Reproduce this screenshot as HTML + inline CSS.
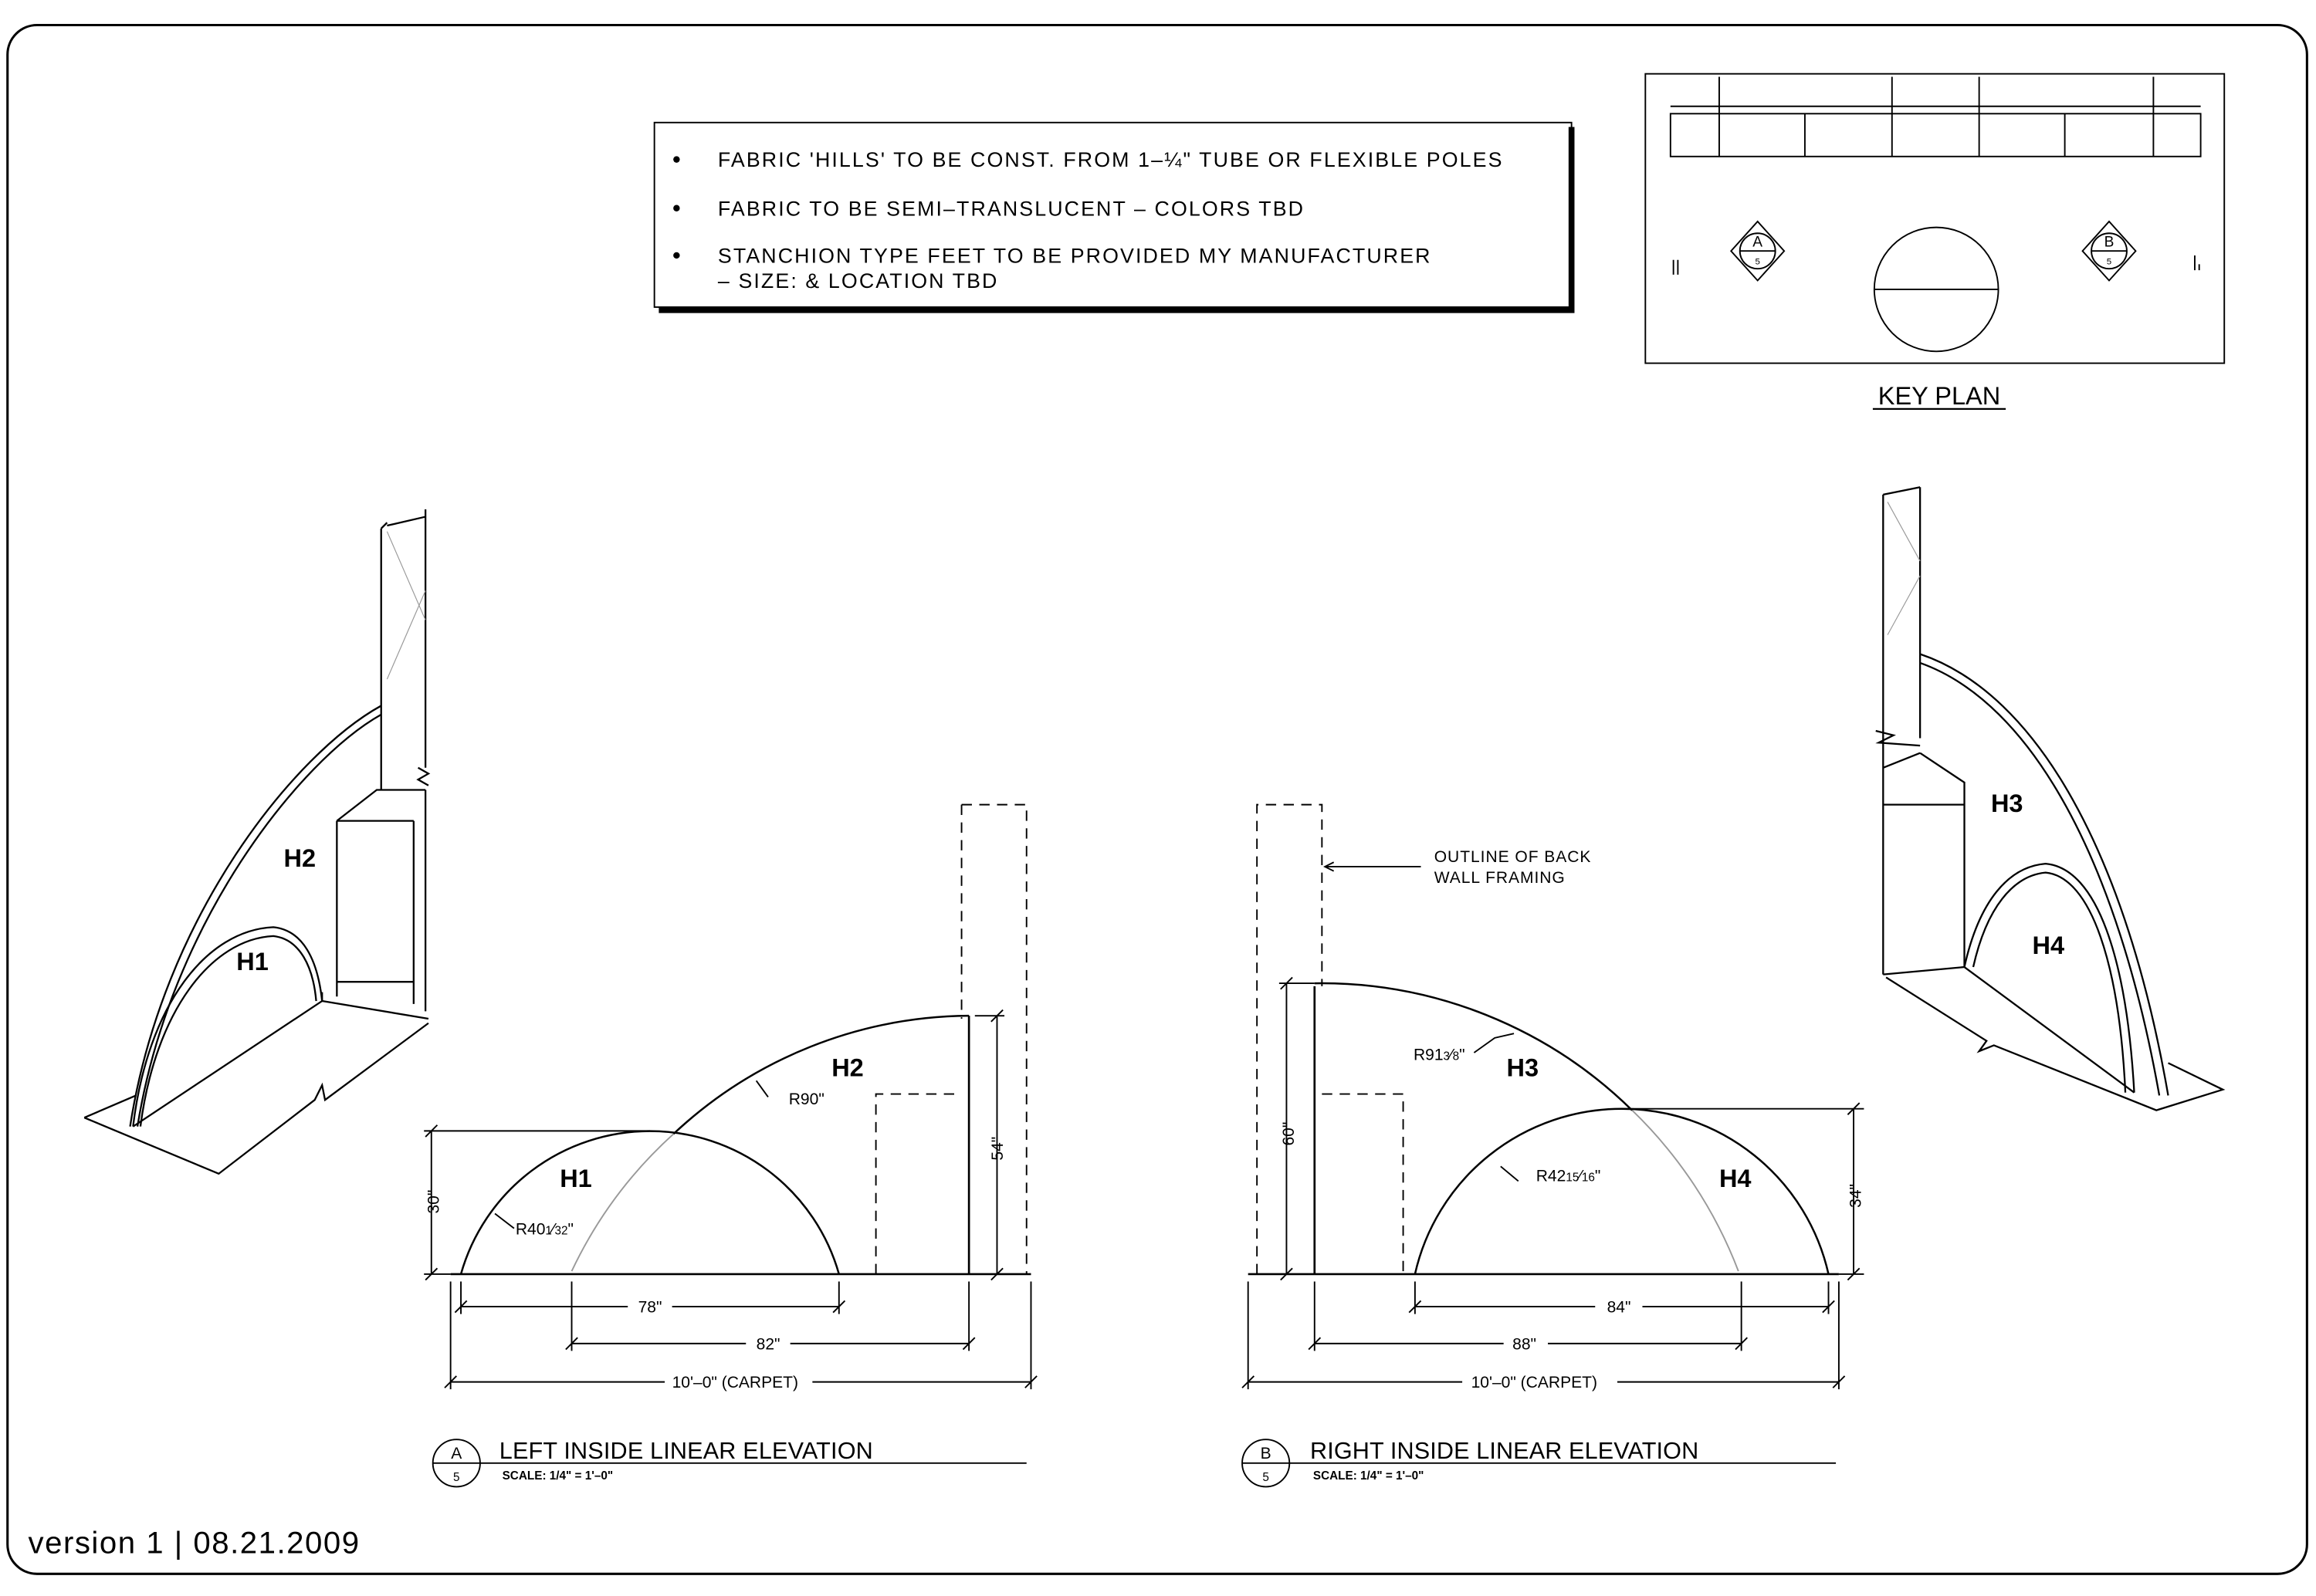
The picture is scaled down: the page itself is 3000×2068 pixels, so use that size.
<!DOCTYPE html>
<html><head><style>html,body{margin:0;padding:0;background:#fff}svg{display:block}</style></head>
<body>
<svg width="3000" height="2068" viewBox="0 0 1568 1081" xmlns="http://www.w3.org/2000/svg" font-family="Liberation Sans, sans-serif">
<rect x="0" y="0" width="1568" height="1081" fill="#fff"/>
<rect x="5" y="17" width="1557" height="1049" rx="20" fill="none" stroke="#000" stroke-width="1.6"/>

<!-- notes box -->
<rect x="443" y="83" width="621" height="125" fill="none" stroke="#000" stroke-width="1"/>
<path d="M1064 86 V210 H446" fill="none" stroke="#000" stroke-width="4"/>
<g font-size="14" fill="#000" letter-spacing="1.1">
<circle cx="458" cy="108" r="2.2"/><text x="486" y="113">FABRIC  'HILLS'  TO  BE  CONST.  FROM  1–¼"  TUBE  OR  FLEXIBLE  POLES</text>
<circle cx="458" cy="141" r="2.2"/><text x="486" y="146">FABRIC  TO  BE  SEMI–TRANSLUCENT  –  COLORS  TBD</text>
<circle cx="458" cy="173" r="2.2"/><text x="486" y="178">STANCHION  TYPE  FEET  TO  BE  PROVIDED  MY  MANUFACTURER</text>
<text x="486" y="195">–  SIZE:  &amp;  LOCATION  TBD</text>
</g>

<!-- key plan -->
<g stroke="#000" fill="none" stroke-width="1">
<rect x="1114" y="50" width="392" height="196"/>
<rect x="1131" y="77" width="359" height="29"/>
<path d="M1131 72 H1490 M1164 77V106 M1222 77V106 M1281 77V106 M1340 77V106 M1398 77V106 M1458 77V106 M1164 52V77 M1281 52V77 M1340 52V77 M1458 52V77"/>
<circle cx="1311" cy="196" r="42"/><path d="M1269 196 H1353"/>
<path d="M1172 170 L1190 150 L1208 170 L1190 190 Z"/><circle cx="1190" cy="170" r="12"/><path d="M1178 170H1202"/>
<path d="M1446 170 L1428 150 L1410 170 L1428 190 Z"/><circle cx="1428" cy="170" r="12"/><path d="M1416 170H1440"/>
<path d="M1133 176V186 M1136 176V186 M1486 173V183 M1489 179V183"/>
</g>
<g font-size="10" text-anchor="middle"><text x="1190" y="167">A</text><text x="1428" y="167">B</text></g>
<g font-size="6" text-anchor="middle"><text x="1190" y="179">5</text><text x="1428" y="179">5</text></g>
<text x="1313" y="274" font-size="17" text-anchor="middle">KEY PLAN</text>
<path d="M1268 277H1358" stroke="#000" stroke-width="1.2"/>

<!-- LEFT ISO -->
<g stroke="#000" fill="none" stroke-width="1.2">
<path d="M258 358 V535 M288 345 V520 M262 356 L288 350 M258 358 L262 354"/>
<path d="M262 360 L288 420 M262 460 L288 400" stroke="#999" stroke-width="0.6"/>
<path d="M283 520 L290 524 L283 528 L290 532"/>
<path d="M228 556 H280 M228 556 L255 535 H288 M228 556 V675 M280 556 V680 M288 535 V685 M228 665 H280"/>
<path d="M57 757 L148 795 L213 745 L218 735 L220 745 L290 693"/>
<path d="M57 757 L92 742 M218 678 L290 690"/>
<path d="M90 763 L218 678 L218 672"/>
<path d="M88 763 C110 620 200 510 258 478" stroke-width="1.2"/>
<path d="M93 763 C115 625 203 515 258 484" stroke-width="1.2"/>
<path d="M90 763 C100 680 140 630 185 628 C205 630 215 650 218 678"/>
<path d="M95 763 C105 685 143 636 185 634 C203 636 212 655 214 678"/>
</g>
<g font-size="17" font-weight="bold"><text x="192" y="587">H2</text><text x="160" y="657">H1</text></g>

<!-- RIGHT ISO -->
<g stroke="#000" fill="none" stroke-width="1.2">
<path d="M1275 335 V660 M1300 330 V500 M1275 335 L1300 330"/>
<path d="M1278 340 L1300 380 M1278 430 L1300 390" stroke="#999" stroke-width="0.6"/>
<path d="M1270 495 L1282 498 L1272 503 L1300 505"/>
<path d="M1275 545 H1330 M1300 510 L1330 530 V545 M1275 520 L1300 510 M1330 545 V655"/>
<path d="M1277 662 L1345 705 L1340 712 L1350 708 L1460 752 L1505 738 L1468 720"/>
<path d="M1275 660 L1330 655 L1445 740"/>
<path d="M1300 443 C1380 470 1440 580 1468 742"/>
<path d="M1300 449 C1376 476 1434 584 1462 742"/>
<path d="M1330 655 C1340 610 1360 587 1385 585 C1420 588 1440 650 1445 740"/>
<path d="M1336 655 C1345 615 1363 593 1385 591 C1416 594 1435 654 1439 740"/>
</g>
<g font-size="17" font-weight="bold"><text x="1348" y="550">H3</text><text x="1376" y="646">H4</text></g>

<!-- LEFT ELEVATION -->
<g stroke="#000" fill="none" stroke-width="1">
<path d="M305 863 H698" stroke-width="1.4"/>
<path d="M651 545 H695 V863 M651 545 V690 M593 863 V741 H651" stroke-dasharray="7 5"/>
<path d="M656 688 V863" stroke-width="1.4"/>
<path d="M312 863 A133 133 0 0 1 568 863" stroke-width="1.3"/>
<path d="M387 861 A295 295 0 0 1 456 768" stroke="#999"/>
<path d="M456 768 A295 295 0 0 1 656 688" stroke-width="1.3"/>
<path d="M287 766 H440 M287 863 H305 M292 766 V863 M288 770 L296 762 M288 867 L296 859"/>
<path d="M660 688 H680 M660 863 H680 M675 688 V863 M671 692 L679 684 M671 867 L679 859"/>
<path d="M312 868 V890 M568 868 V890 M312 885 H425 M455 885 H568 M308 889 L316 881 M564 889 L572 881"/>
<path d="M387 868 V915 M656 868 V915 M387 910 H505 M535 910 H656 M383 914 L391 906 M652 914 L660 906"/>
<path d="M305 868 V941 M698 868 V941 M305 936 H450 M550 936 H698 M301 940 L309 932 M694 940 L702 932"/>
<path d="M335 822 L348 832 M512 732 L520 743"/>
</g>
<g font-size="11">
<text x="432" y="889">78"</text><text x="512" y="914">82"</text><text x="455" y="940">10'–0"  (CARPET)</text>
<text x="349" y="836">R40<tspan font-size="8">1</tspan>⁄<tspan font-size="8">32</tspan>"</text>
<text x="534" y="748">R90"</text>
<text transform="translate(297 822) rotate(-90)">30"</text>
<text transform="translate(679 786) rotate(-90)">54"</text>
</g>
<g font-size="17" font-weight="bold"><text x="379" y="804">H1</text><text x="563" y="729">H2</text></g>

<!-- RIGHT ELEVATION -->
<g stroke="#000" fill="none" stroke-width="1">
<path d="M845 863 H1245" stroke-width="1.4"/>
<path d="M851 863 V545 H895 V668 M895 741 H950 V863" stroke-dasharray="7 5"/>
<path d="M890 668 V863" stroke-width="1.4"/>
<path d="M890 666 A300 300 0 0 1 1105 752" stroke-width="1.3"/>
<path d="M1105 752 A300 300 0 0 1 1177 861" stroke="#999"/>
<path d="M958 863 A143.5 143.5 0 0 1 1238 863" stroke-width="1.3"/>
<path d="M866 666 H890 M866 863 H890 M871 666 V863 M867 670 L875 662 M867 867 L875 859"/>
<path d="M1098 751 H1262 M1245 863 H1262 M1255 751 V863 M1251 755 L1259 747 M1251 867 L1259 859"/>
<path d="M958 868 V890 M1238 868 V890 M958 885 H1080 M1112 885 H1238 M954 889 L962 881 M1234 889 L1242 881"/>
<path d="M890 868 V915 M1179 868 V915 M890 910 H1018 M1048 910 H1179 M886 914 L894 906 M1175 914 L1183 906"/>
<path d="M845 868 V941 M1245 868 V941 M845 936 H990 M1095 936 H1245 M841 940 L849 932 M1241 940 L1249 932"/>
<path d="M962 587 H897 M903 584 L897 587 L903 590"/>
<path d="M998 713 L1012 703 L1025 700 M1016 790 L1028 800"/>
</g>
<g font-size="11">
<text x="1088" y="889">84"</text><text x="1024" y="914">88"</text><text x="996" y="940">10'–0"  (CARPET)</text>
<text x="957" y="718">R91<tspan font-size="8">3</tspan>⁄<tspan font-size="8">8</tspan>"</text>
<text x="1040" y="800">R42<tspan font-size="8">15</tspan>⁄<tspan font-size="8">16</tspan>"</text>
<text transform="translate(876 776) rotate(-90)">60"</text>
<text transform="translate(1260 818) rotate(-90)">34"</text>
<text x="971" y="584" letter-spacing="0.5">OUTLINE  OF  BACK</text><text x="971" y="598" letter-spacing="0.5">WALL  FRAMING</text>
</g>
<g font-size="17" font-weight="bold"><text x="1020" y="729">H3</text><text x="1164" y="804">H4</text></g>

<!-- titles -->
<g stroke="#000" fill="none" stroke-width="1">
<circle cx="309" cy="991" r="16"/><path d="M293 991H325 M325 991 H695"/>
<circle cx="857" cy="991" r="16"/><path d="M841 991H873 M873 991 H1243"/>
</g>
<g font-size="11" text-anchor="middle"><text x="309" y="988">A</text><text x="857" y="988">B</text></g>
<g font-size="8" text-anchor="middle"><text x="309" y="1003">5</text><text x="857" y="1003">5</text></g>
<g font-size="16"><text x="338" y="988" textLength="253">LEFT INSIDE LINEAR ELEVATION</text><text x="887" y="988" textLength="263">RIGHT INSIDE LINEAR ELEVATION</text></g>
<g font-size="8" font-weight="bold"><text x="340" y="1002">SCALE:   1/4" = 1'–0"</text><text x="889" y="1002">SCALE:   1/4" = 1'–0"</text></g>

<text x="19" y="1052" font-size="21" textLength="224">version 1 | 08.21.2009</text>
</svg>
</body></html>
